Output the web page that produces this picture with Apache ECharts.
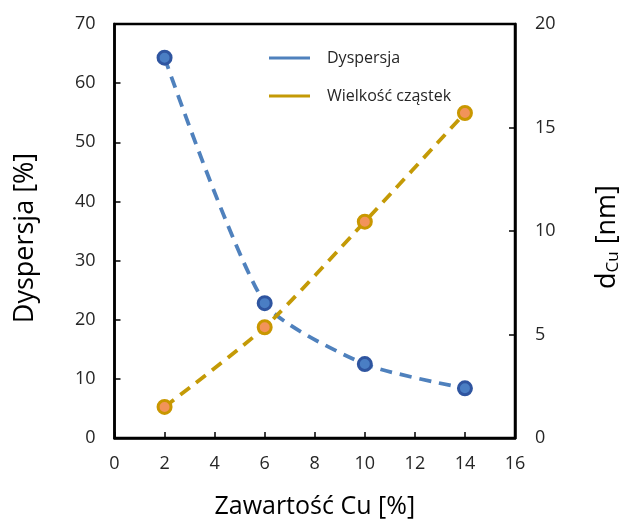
<!DOCTYPE html>
<html><head><meta charset="utf-8">
<script src="https://cdn.jsdelivr.net/npm/echarts@6/dist/echarts.min.js"></script>
<style>html,body{margin:0;padding:0;background:#fff}#c{width:630px;height:524px}</style>
</head><body><div id="c"></div>
<script>
const xValues = [2, 6, 10, 14];
const dyspersja = [64.3, 22.8, 12.5, 8.4];
const wielkosc = [1.5, 5.35, 10.45, 15.7];
const seriesNames = ['Dyspersja', 'Wielkość cząstek'];

const FONT = '"Open Sans", "Noto Sans", sans-serif';
const chart = echarts.init(document.getElementById('c'), null, {renderer: 'canvas'});
const axisCommon = {
  axisLine: {show: true, lineStyle: {color: '#000', width: 2.5}},
  axisTick: {show: true, inside: true, length: 6, lineStyle: {color: '#000', width: 1.5}},
  splitLine: {show: false},
  axisLabel: {color: '#262626', fontSize: 18, fontFamily: FONT},
  nameTextStyle: {color: '#000', fontSize: 24, fontFamily: FONT}
};
chart.setOption({
  animation: false,
  backgroundColor: '#fff',
  grid: {left: 114.5, right: 98, top: 24, bottom: 80, show: true, borderColor: '#000', borderWidth: 2.5},
  legend: {
    orient: 'vertical', left: 264, top: 45, itemWidth: 41, itemHeight: 3, itemGap: 22,
    icon: 'rect',
    itemStyle: {borderWidth: 0},
    lineStyle: {width: 0},
    textStyle: {fontSize: 16, fontFamily: FONT, color: '#262626', padding: [0, 0, 0, 12]},
    data: [
      {name: seriesNames[0], itemStyle: {color: '#4f81bd', borderWidth: 0}},
      {name: seriesNames[1], itemStyle: {color: '#c49a06', borderWidth: 0}}
    ]
  },
  xAxis: Object.assign({}, axisCommon, {
    type: 'value', min: 0, max: 16, interval: 2,
    axisLabel: Object.assign({}, axisCommon.axisLabel, {margin: 17}),
    name: 'Zawartość Cu [%]', nameLocation: 'middle', nameGap: 56,
    nameTextStyle: {color: '#000', fontSize: 25, fontFamily: FONT}
  }),
  yAxis: [
    Object.assign({}, axisCommon, {
      type: 'value', min: 0, max: 70, interval: 10, position: 'left',
      axisLabel: Object.assign({}, axisCommon.axisLabel, {margin: 19}),
      name: 'Dyspersja [%]', nameLocation: 'middle', nameGap: 76,
      nameTextStyle: {color: '#000', fontSize: 27, fontFamily: FONT, padding: [0, 14, 0, 0]}
    }),
    Object.assign({}, axisCommon, {
      type: 'value', min: 0, max: 20, interval: 5, position: 'right',
      axisLabel: Object.assign({}, axisCommon.axisLabel, {margin: 20}),
      name: '{a|d}{b|Cu}{a| [nm]}', nameLocation: 'middle', nameGap: 78,
      nameTextStyle: {color: '#000', fontSize: 27, fontFamily: FONT, padding: [0, 12, 0, 0],
        rich: {a: {fontSize: 27, fontFamily: FONT, color: '#000'},
               b: {fontSize: 17, fontFamily: FONT, color: '#000', verticalAlign: 'bottom', padding: [12, 0, 0, 0]}}}
    })
  ],
  series: [
    {
      name: seriesNames[0], type: 'line', yAxisIndex: 0, smooth: 0.22,
      data: xValues.map((x, i) => [x, dyspersja[i]]),
      symbol: 'circle', symbolSize: 13,
      lineStyle: {color: '#4f81bd', width: 3.8, type: [12, 8]},
      itemStyle: {color: '#4a7ec4', borderColor: '#2f55a0', borderWidth: 3}
    },
    {
      name: seriesNames[1], type: 'line', yAxisIndex: 1, smooth: 0.22,
      data: xValues.map((x, i) => [x, wielkosc[i]]),
      symbol: 'circle', symbolSize: 13,
      lineStyle: {color: '#c49a06', width: 3.8, type: [12, 8]},
      itemStyle: {color: '#f2935a', borderColor: '#c99700', borderWidth: 3}
    }
  ]
});
</script></body></html>
